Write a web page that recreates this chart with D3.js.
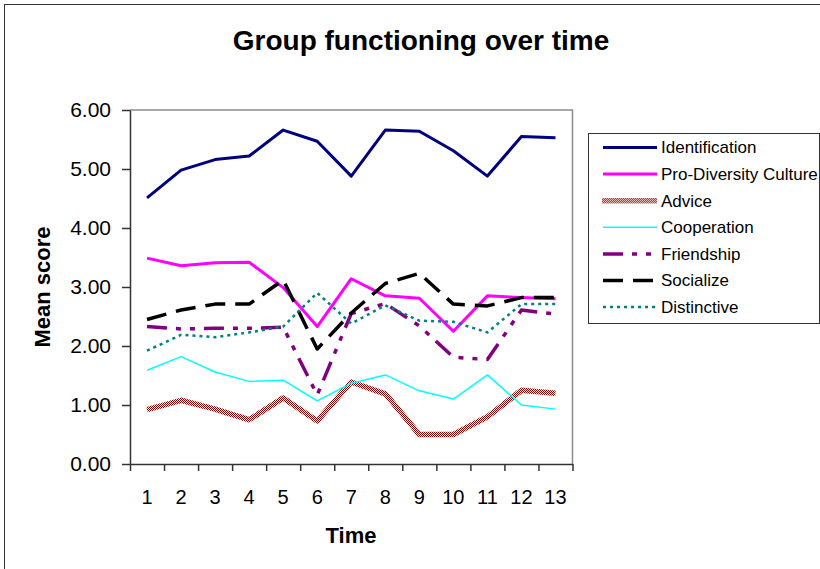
<!DOCTYPE html>
<html>
<head>
<meta charset="utf-8">
<script src="https://cdn.jsdelivr.net/npm/d3@7"></script>
<style>
  body { margin: 0; background: #fff; }
  svg { display: block; font-family: 'Liberation Sans', Arial, sans-serif; }
</style>
</head>
<body>
<div id="chart"></div>
<script>
// data
const times = ['1', '2', '3', '4', '5', '6', '7', '8', '9', '10', '11', '12', '13'];
const yTicks = [0, 1, 2, 3, 4, 5, 6];

const identification = [4.51, 4.98, 5.16, 5.22, 5.66, 5.47, 4.88, 5.66, 5.64, 5.31, 4.88, 5.55, 5.53];
const proDiversity   = [3.49, 3.36, 3.41, 3.42, 2.99, 2.33, 3.14, 2.85, 2.81, 2.25, 2.85, 2.82, 2.80];
const advice         = [0.92, 1.08, 0.93, 0.75, 1.12, 0.73, 1.39, 1.19, 0.50, 0.50, 0.80, 1.25, 1.20];
const cooperation    = [1.59, 1.82, 1.56, 1.40, 1.42, 1.07, 1.37, 1.51, 1.24, 1.10, 1.51, 1.00, 0.93];
const friendship     = [2.33, 2.29, 2.30, 2.30, 2.32, 1.17, 2.55, 2.72, 2.34, 1.81, 1.77, 2.61, 2.54];
const socialize      = [2.45, 2.61, 2.71, 2.71, 3.12, 1.95, 2.56, 3.06, 3.23, 2.71, 2.68, 2.82, 2.82];
const distinctive    = [1.92, 2.19, 2.15, 2.23, 2.33, 2.90, 2.38, 2.69, 2.43, 2.41, 2.23, 2.71, 2.71];

const W = 820, H = 569;
const PLOT = {LEFT: 130, RIGHT: 572.5, TOP: 110, BOTTOM: 464};

const series = [
  {name: 'Identification', values: identification, stroke: '#000080', width: 3, dash: null},
  {name: 'Pro-Diversity Culture', values: proDiversity, stroke: '#ff00ff', width: 3, dash: null},
  {name: 'Advice', values: advice, stroke: 'url(#checker)', width: 5.5, dash: null},
  {name: 'Cooperation', values: cooperation, stroke: '#00ffff', width: 1.5, dash: null},
  {name: 'Friendship', values: friendship, stroke: '#800080', width: 3.5, dash: '20,9,5,9,5,9'},
  {name: 'Socialize', values: socialize, stroke: '#000000', width: 3.5, dash: '20,10'},
  {name: 'Distinctive', values: distinctive, stroke: '#008080', width: 2.5, dash: '3,4'}
];

const svg = d3.select('#chart')
  .append('svg')
    .attr('width', W)
    .attr('height', H);

// checkered dark red stroke for Advice
const pat = svg.append('defs').append('pattern')
  .attr('id', 'checker')
  .attr('patternUnits', 'userSpaceOnUse')
  .attr('width', 2)
  .attr('height', 2);
pat.append('rect').attr('width', 2).attr('height', 2).attr('fill', '#fff');
pat.append('rect').attr('width', 1).attr('height', 1).attr('fill', '#800000');
pat.append('rect').attr('x', 1).attr('y', 1).attr('width', 1).attr('height', 1).attr('fill', '#800000');

// outer chart frame (runs past right/bottom edge)
svg.append('rect')
  .attr('x', 4.5).attr('y', 4.5)
  .attr('width', W + 20).attr('height', H + 20)
  .attr('fill', 'none')
  .attr('stroke', '#333');

const x = d3.scaleBand()
  .domain(times)
  .range([PLOT.LEFT, PLOT.RIGHT]);

const xEdge = d3.scaleLinear()
  .domain([0, times.length])
  .range([PLOT.LEFT, PLOT.RIGHT]);

const y = d3.scaleLinear()
  .domain([0, 6])
  .range([PLOT.BOTTOM, PLOT.TOP]);

// plot area border (top, right)
svg.append('path')
  .attr('d', `M${PLOT.LEFT},${PLOT.TOP}H${PLOT.RIGHT}V${PLOT.BOTTOM}`)
  .attr('fill', 'none')
  .attr('stroke', '#8c8c8c')
  .attr('stroke-width', 1.5);

// y axis
const yAxis = svg.append('g')
  .attr('transform', `translate(${PLOT.LEFT}, 0)`)
  .call(d3.axisLeft(y)
    .tickValues(yTicks)
    .tickFormat(d3.format('.2f'))
    .tickSize(8)
    .tickSizeOuter(0)
    .tickPadding(11));
yAxis.selectAll('text')
  .attr('font-size', '21px')
  .attr('font-family', 'Liberation Sans, Arial, sans-serif')
  .attr('fill', '#000');
yAxis.selectAll('line, path').attr('stroke', '#333').attr('stroke-width', 1.5);

// x axis tick marks sit between the categories
const xTickAxis = svg.append('g')
  .attr('transform', `translate(0, ${PLOT.BOTTOM})`)
  .call(d3.axisBottom(xEdge)
    .tickValues(d3.range(0, times.length + 1))
    .tickFormat('')
    .tickSize(7)
    .tickSizeOuter(0));
xTickAxis.selectAll('line, path').attr('stroke', '#333').attr('stroke-width', 1.5);

// x labels at category centres
const xLabelAxis = svg.append('g')
  .attr('transform', `translate(0, ${PLOT.BOTTOM})`)
  .call(d3.axisBottom(x).tickSize(0).tickPadding(26));
xLabelAxis.select('.domain').remove();
xLabelAxis.selectAll('text')
  .attr('font-size', '20px')
  .attr('font-family', 'Liberation Sans, Arial, sans-serif')
  .attr('fill', '#000');

// lines
const line = d3.line()
  .x((d, i) => x(times[i]) + x.bandwidth() / 2)
  .y(d => y(d));

svg.append('g').selectAll('path')
  .data(series)
  .enter().append('path')
    .attr('d', d => line(d.values))
    .attr('fill', 'none')
    .attr('stroke', d => d.stroke)
    .attr('stroke-width', d => d.width)
    .attr('stroke-dasharray', d => d.dash)
    .attr('stroke-linejoin', 'round');

// titles
svg.append('text')
  .attr('x', 421)
  .attr('y', 50)
  .attr('text-anchor', 'middle')
  .attr('font-size', '28px')
  .attr('font-weight', 'bold')
  .text('Group functioning over time');

svg.append('text')
  .attr('transform', 'translate(50, 287) rotate(-90)')
  .attr('text-anchor', 'middle')
  .attr('font-size', '22px')
  .attr('font-weight', 'bold')
  .text('Mean score');

svg.append('text')
  .attr('x', 351)
  .attr('y', 543)
  .attr('text-anchor', 'middle')
  .attr('font-size', '22px')
  .attr('font-weight', 'bold')
  .text('Time');

// legend
const legend = svg.append('g');
legend.append('rect')
  .attr('x', 588.5).attr('y', 133.5)
  .attr('width', 231).attr('height', 190)
  .attr('fill', '#fff')
  .attr('stroke', '#333');

const rows = legend.selectAll('g.row')
  .data(series)
  .enter().append('g')
    .attr('class', 'row')
    .attr('transform', (d, i) => `translate(0, ${147.5 + i * 26.6})`);

rows.append('line')
  .attr('x1', d => d.name === 'Advice' ? 602 : 603)
  .attr('x2', 657)
  .attr('stroke', d => d.stroke)
  .attr('stroke-width', d => d.width)
  .attr('stroke-dasharray', d => d.dash);

rows.append('text')
  .attr('x', 661)
  .attr('dy', '0.35em')
  .attr('font-size', '17px')
  .text(d => d.name);
</script>
</body>
</html>
